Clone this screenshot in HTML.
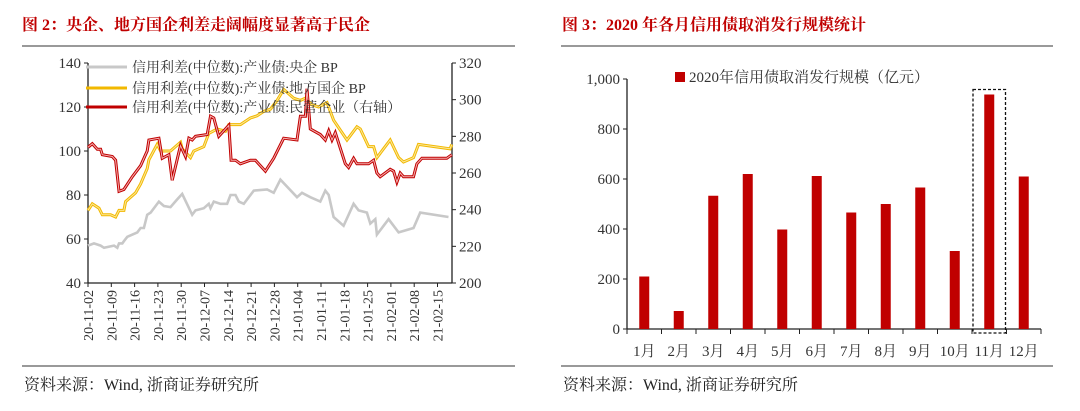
<!DOCTYPE html>
<html><head><meta charset="utf-8">
<style>
body{margin:0;background:#fff;width:1080px;height:406px;overflow:hidden;}
svg text{font-family:"Liberation Serif","Noto Serif CJK SC",serif;}
</style></head>
<body>
<svg id="s" width="1080" height="406" xmlns="http://www.w3.org/2000/svg">
<text x="22" y="30" font-size="16" font-weight="bold" fill="#c00000">图 2：央企、地方国企利差走阔幅度显著高于民企</text>
<line x1="22" y1="46" x2="515" y2="46" stroke="#333" stroke-width="1"/>
<line x1="22" y1="366" x2="515" y2="366" stroke="#333" stroke-width="1"/>
<text x="24" y="390" font-size="16" fill="#222">资料来源：Wind, 浙商证券研究所</text>
<text x="562" y="30" font-size="16" font-weight="bold" fill="#c00000">图 3：2020 年各月信用债取消发行规模统计</text>
<line x1="561" y1="46" x2="1053" y2="46" stroke="#333" stroke-width="1"/>
<line x1="561" y1="366" x2="1053" y2="366" stroke="#333" stroke-width="1"/>
<text x="563" y="390" font-size="16" fill="#222">资料来源：Wind, 浙商证券研究所</text>
<g id="left"></g>
<g id="right"></g>
</svg>
<script>
// ---- left chart data (days since 2020-11-02) ----
const grayDays=[0,1.8,3.8,4.8,7.8,8.8,9.3,10.3,10.8,11.8,14.8,15.8,16.8,17.8,18.8,21.3,22.8,24.8,26.8,28.3,31.3,32.3,34.8,36.3,36.8,37.8,39.8,41.8,42.8,44.3,45.3,46.8,49.8,53.8,55.8,57.8,62.8,64.3,66.8,69.8,71.3,72.3,73.8,76.8,79.8,81.3,83.8,84.8,86.3,86.8,90.3,93.3,97.8,99.8,108.3];
const grayVals=[57,58,57,56,57,56,58,58,59,61,63,65,65,71,72,77,75,74.5,78,80.5,71,73,74,76,74,77,76,76,80,80,77,76,82,82.5,81,87,79,81,79,77,82,80,70,66,76,73,72,67,69,62,69,63,65,72,70];
const yelDays=[0,1.3,3.3,4.3,6.8,8.3,9.3,10.8,11.3,14.3,15.8,17.8,18.3,20.8,21.8,24.8,27.8,28.3,30.8,31.8,34.8,36.3,38.8,41.3,42.3,45.8,48.8,50.8,52.8,54.8,56.8,58.8,61.8,63.8,65.3,67.3,69.3,71.8,73.8,77.8,80.8,81.8,84.3,85.8,86.8,90.8,93.3,94.8,97.8,99.3,108.8,109.3];
const yelVals=[73,76,74,71,71,70,73,73,77,81,85,92,96,103,100,100,104,101,97,100,102,108,110,109,112,112,115,116,118,119,123,128,124,123,124,121,120,122,114,105,111,110,102,102,97,105,97,95,97,103,101,103];
const redDays=[0,1.3,2.8,3.8,4.3,7.3,8.3,9.3,10.8,13.3,15.8,17.8,18.3,21.3,22.3,24.3,25.3,27.8,29.3,30.3,31.3,32.3,35.8,36.8,37.8,39.3,42.3,43.0,44.3,45.8,48.8,50.3,53.3,55.8,58.8,62.8,63.8,65.3,65.8,66.8,69.8,71.3,72.3,73.3,74.3,77.3,78.3,79.8,80.8,84.3,85.8,86.8,87.8,90.8,91.8,92.8,93.8,94.8,97.8,98.8,100.3,107.8,109.3];
const redVals=[274,276,273,273,270,269,267,250,251,258,264,272,278,279,268,270,256,275,269,279,278,280,281,291,290,280,286,267,267,265,267,267,261,268,279,278,291,291,306,284,281,278,283,278,282,265,263,268,265,265,267,260,258,262,261,255,260,258,258,265,268,268,270];
const dateLabels=["20-11-02","20-11-09","20-11-16","20-11-23","20-11-30","20-12-07","20-12-14","20-12-21","20-12-28","21-01-04","21-01-11","21-01-18","21-01-25","21-02-01","21-02-08","21-02-15"];
const leftTicks=[40,60,80,100,120,140];
const rightTicks=[200,220,240,260,280,300,320];
// ---- right chart data ----
const months=["1月","2月","3月","4月","5月","6月","7月","8月","9月","10月","11月","12月"];
const cancelVals=[210,72,533,620,398,612,466,500,566,312,938,610];
const barTicks=[0,200,400,600,800,1000];

const NS="http://www.w3.org/2000/svg";
function mk(tag,attrs,parent){const e=document.createElementNS(NS,tag);for(const k in attrs)e.setAttribute(k,attrs[k]);parent.appendChild(e);return e;}
const L=document.getElementById('left'),R=document.getElementById('right');
const x0=88,pxDay=23.3/7,yTop=63,yBot=283,xR=452;
const xL=d=>x0+d*pxDay;
const yLeft=v=>yBot-(v-40)/100*(yBot-yTop);
const yRight=v=>yBot-(v-200)/120*(yBot-yTop);
let e;
e=mk('line',{x1:x0,y1:yTop,x2:x0,y2:yBot,stroke:'#222','stroke-width':1.3},L);


e=mk('line',{x1:xR,y1:yTop,x2:xR,y2:yBot,stroke:'#222','stroke-width':1.3},L);


e=mk('line',{x1:x0,y1:yBot,x2:xR,y2:yBot,stroke:'#222','stroke-width':1.3},L);


leftTicks.forEach(v=>{const y=yLeft(v);
 mk('line',{x1:x0-4,y1:y,x2:x0,y2:y,stroke:'#222'},L);
 e=mk('text',{x:x0-7,y:y+5,'font-size':15,'text-anchor':'end',fill:'#333'},L);e.textContent=v;
 
 });
rightTicks.forEach(v=>{const y=yRight(v);
 mk('line',{x1:xR,y1:y,x2:xR+4,y2:y,stroke:'#222'},L);
 e=mk('text',{x:xR+7,y:y+5,'font-size':15,fill:'#333'},L);e.textContent=v;
 
 });
dateLabels.forEach((t,i)=>{const x=xL(i*7);
 mk('line',{x1:x,y1:yBot,x2:x,y2:yBot+4,stroke:'#222'},L);
 e=mk('text',{x:0,y:0,'font-size':14,'text-anchor':'end',fill:'#333',transform:`translate(${x+5},${yBot+7}) rotate(-90)`},L);e.textContent=t;
 
 });
function pts(ds,vs,yf){return ds.map((d,i)=>xL(d).toFixed(1)+','+yf(vs[i]).toFixed(1)).join(' ');}
e=mk('polyline',{points:pts(grayDays,grayVals,yLeft),fill:'none',stroke:'#c8c8c8','stroke-width':2.6},L);


e=mk('polyline',{points:pts(yelDays,yelVals,yLeft),fill:'none',stroke:'#f2b800','stroke-width':3},L);


mk('polyline',{points:pts(yelDays,yelVals,yLeft),fill:'none',stroke:'#fbe89a','stroke-width':1},L);
e=mk('polyline',{points:pts(redDays,redVals,yRight),fill:'none',stroke:'#c00000','stroke-width':3},L);


mk('polyline',{points:pts(redDays,redVals,yRight),fill:'none',stroke:'#f4b0b0','stroke-width':1},L);
const legend=[['#c8c8c8','信用利差(中位数):产业债:央企 BP',67],['#f2b800','信用利差(中位数):产业债:地方国企 BP',88],['#c00000','信用利差(中位数):产业债:民营企业（右轴）',107]];
legend.forEach(l=>{
 mk('line',{x1:86,y1:l[2],x2:127,y2:l[2],stroke:l[0],'stroke-width':3},L);
 e=mk('text',{x:132,y:l[2]+5,'font-size':14,fill:'#333'},L);e.textContent=l[1];
 
 });
const bx0=627,bx1=1041,by0=329,by1=79;
const cw=(bx1-bx0)/months.length;
const yb=v=>by0-v/1000*(by0-by1);
e=mk('line',{x1:bx0,y1:by1,x2:bx0,y2:by0,stroke:'#222','stroke-width':1.3},R);


e=mk('line',{x1:bx0,y1:by0,x2:bx1,y2:by0,stroke:'#222','stroke-width':1.3},R);


barTicks.forEach(v=>{const y=yb(v);
 mk('line',{x1:bx0-4,y1:y,x2:bx0,y2:y,stroke:'#222'},R);
 e=mk('text',{x:bx0-7,y:y+5,'font-size':15,'text-anchor':'end',fill:'#333'},R);e.textContent=v.toLocaleString('en-US');
 
 });
for(let i=0;i<=months.length;i++){mk('line',{x1:bx0+i*cw,y1:by0,x2:bx0+i*cw,y2:by0+5,stroke:'#222'},R);}
months.forEach((m,i)=>{const cx=bx0+(i+0.5)*cw;
 e=mk('rect',{x:cx-5,y:yb(cancelVals[i]),width:10,height:by0-yb(cancelVals[i]),fill:'#c00000'},R);
 
 
 e=mk('text',{x:cx,y:by0+27,'font-size':15,'text-anchor':'middle',fill:'#333'},R);e.textContent=m;
 
 });
const nx=bx0+10*cw;
e=mk('rect',{x:nx+1,y:yb(cancelVals[10])-5,width:cw-2,height:by0+4-(yb(cancelVals[10])-5),fill:'none',stroke:'#111','stroke-width':1.3,'stroke-dasharray':'3,2'},R);


e=mk('rect',{x:675,y:72,width:10,height:10,fill:'#c00000'},R);


e=mk('text',{x:689,y:82,'font-size':15,fill:'#333'},R);e.textContent='2020年信用债取消发行规模（亿元）';


</script>
</body></html>
